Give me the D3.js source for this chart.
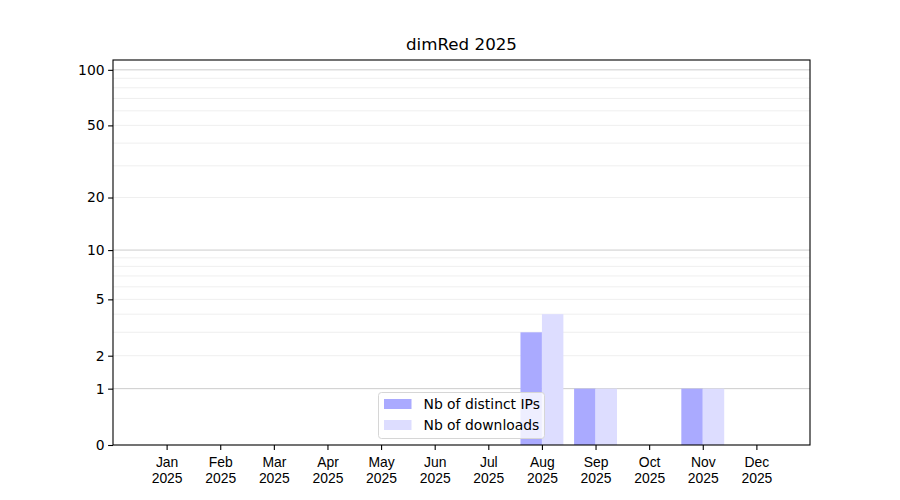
<!DOCTYPE html>
<html>
<head>
<meta charset="utf-8">
<script src="https://cdn.jsdelivr.net/npm/d3@7"></script>
<style>
  body { margin: 0; background: #fff; }
  svg { font-family: "DejaVu Sans", sans-serif; }
</style>
</head>
<body>
<div id="chart"></div>
<script>
const months = ["Jan", "Feb", "Mar", "Apr", "May", "Jun", "Jul", "Aug", "Sep", "Oct", "Nov", "Dec"]
const year = "2025"
const distinctIPs = [0, 0, 0, 0, 0, 0, 0, 3, 1, 0, 1, 0]
const downloads = [0, 0, 0, 0, 0, 0, 0, 4, 1, 0, 1, 0]
const yTicks = [0, 1, 2, 5, 10, 20, 50, 100]
const majorGrid = [1, 10, 100]
const minorGrid = [2, 3, 4, 5, 6, 7, 8, 9, 20, 30, 40, 50, 60, 70, 80, 90]
const seriesNames = ["Nb of distinct IPs", "Nb of downloads"]
const seriesColors = ["#aaaaff", "#ddddff"]

const width = 900
const height = 500
const margin = { top: 60, right: 90, bottom: 55, left: 113 }
const innerW = width - margin.left - margin.right
const innerH = height - margin.top - margin.bottom

const svg = d3.select("#chart").append("svg")
    .attr("width", width)
    .attr("height", height)

const g = svg.append("g")
    .attr("transform", `translate(${margin.left},${margin.top})`)

const x = d3.scaleLinear().domain([-1, 12]).range([0, innerW])
const y = d3.scaleSymlog().constant(1).domain([0, 113]).range([innerH, 0])
const barW = x(0.4) - x(0)

// grid
g.selectAll(".minor")
    .data(minorGrid)
    .enter()
    .append("line")
    .attr("x1", 0).attr("x2", innerW)
    .attr("y1", d => y(d)).attr("y2", d => y(d))
    .attr("stroke", "#ebebeb")
    .attr("stroke-width", 0.8)

g.selectAll(".major")
    .data(majorGrid)
    .enter()
    .append("line")
    .attr("x1", 0).attr("x2", innerW)
    .attr("y1", d => y(d)).attr("y2", d => y(d))
    .attr("stroke", "#cccccc")
    .attr("stroke-width", 1)

// bars
const series = [distinctIPs, downloads]
series.forEach((vals, s) => {
    g.append("g")
        .selectAll("rect")
        .data(vals.map((v, i) => ({ i, v })).filter(d => d.v > 0))
        .enter()
        .append("rect")
        .attr("x", d => x(d.i) - barW + s * barW)
        .attr("width", barW)
        .attr("y", d => y(d.v))
        .attr("height", d => y(0) - y(d.v))
        .attr("fill", seriesColors[s])
})

// axes
const xAxis = g.append("g")
    .attr("transform", `translate(0,${innerH})`)
    .call(d3.axisBottom(x).tickValues(d3.range(12)).tickSize(4.9).tickPadding(3.5).tickFormat(""))

xAxis.selectAll(".tick").each(function(d) {
    const t = d3.select(this).append("text")
        .attr("fill", "#000")
        .attr("font-size", 13.9)
        .attr("text-anchor", "middle")
    t.append("tspan").attr("x", 0).attr("y", 22).text(months[d])
    t.append("tspan").attr("x", 0).attr("y", 38).text(year)
})

const yAxis = g.append("g")
    .call(d3.axisLeft(y).tickValues(yTicks).tickSize(4.9).tickPadding(3.5).tickFormat(d3.format("d")))

g.selectAll(".domain").remove()
g.selectAll(".tick line").attr("stroke", "#000").attr("stroke-width", 1.1)
yAxis.selectAll(".tick text").attr("font-size", 13.9).attr("fill", "#000").attr("font-family", "DejaVu Sans")

g.append("rect")
    .attr("width", innerW)
    .attr("height", innerH)
    .attr("fill", "none")
    .attr("stroke", "#000")
    .attr("stroke-width", 1.1)

// title
svg.append("text")
    .attr("x", margin.left + innerW / 2)
    .attr("y", margin.top - 10)
    .attr("text-anchor", "middle")
    .attr("font-size", 16.7)
    .text(`dimRed ${year}`)

// legend
const legend = svg.append("g").attr("transform", "translate(378.5,392.5)")
legend.append("rect")
    .attr("width", 166)
    .attr("height", 46)
    .attr("rx", 3)
    .attr("fill", "#fff")
    .attr("fill-opacity", 0.8)
    .attr("stroke", "#d6d6d6")
    .attr("stroke-width", 1)

seriesNames.forEach((name, i) => {
    legend.append("rect")
        .attr("x", 5.5)
        .attr("y", 6.5 + i * 21)
        .attr("width", 27.5)
        .attr("height", 10)
        .attr("fill", seriesColors[i])
    legend.append("text")
        .attr("x", 45)
        .attr("y", 16 + i * 21)
        .attr("font-size", 13.9)
        .text(name)
})
</script>
</body>
</html>
